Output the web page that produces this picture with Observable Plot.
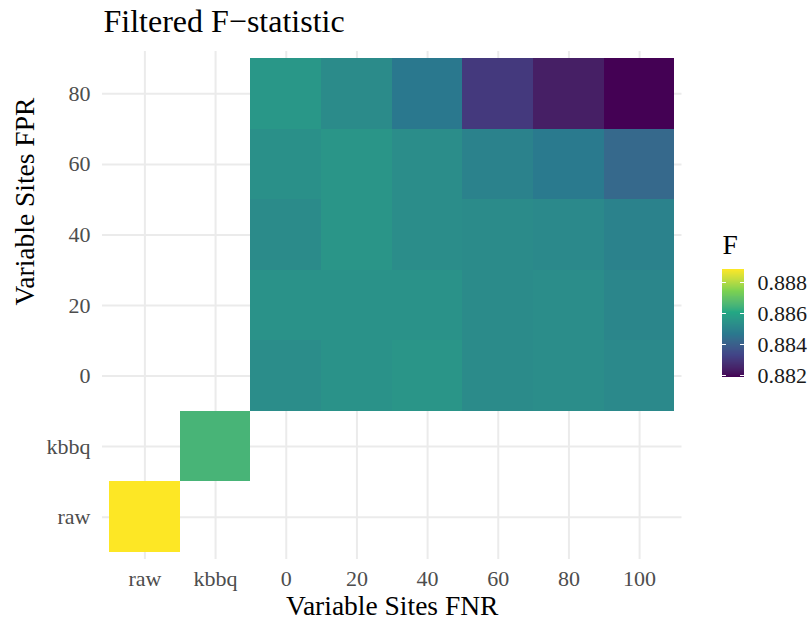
<!DOCTYPE html>
<html><head><meta charset="utf-8">
<script src="https://cdn.jsdelivr.net/npm/d3@7"></script>
<script src="https://cdn.jsdelivr.net/npm/@observablehq/plot@0.6"></script>
<style>
body{margin:0;background:#fff;}
#wrap{position:relative;width:809px;height:620px;overflow:hidden;background:#fff;}
#main{position:absolute;left:0;top:0;}
#legend{position:absolute;left:700px;top:230px;}
</style></head><body>
<div id="wrap"><div id="main"></div><div id="legend"></div></div>
<script>
// ---- data ----
const xCategories = ["raw", "kbbq", "0", "20", "40", "60", "80", "100"];
const yCategories = ["80", "60", "40", "20", "0", "kbbq", "raw"];
const fnrLevels = ["0", "20", "40", "60", "80", "100"];
const fprLevels = ["80", "60", "40", "20", "0"];
// rows follow fprLevels, columns follow fnrLevels
const fRow80 = [0.88556, 0.88522, 0.88466, 0.88299, 0.88236, 0.88187];
const fRow60 = [0.88536, 0.88550, 0.88529, 0.88494, 0.88473, 0.88424];
const fRow40 = [0.88522, 0.88550, 0.88529, 0.88522, 0.88515, 0.88494];
const fRow20 = [0.88543, 0.88543, 0.88543, 0.88522, 0.88529, 0.88508];
const fRow0  = [0.88529, 0.88543, 0.88550, 0.88522, 0.88529, 0.88515];
const rawF = 0.88884;
const kbbqF = 0.88647;
const colorDomain = [0.88187, 0.88884];
const legendTicks = [0.882, 0.884, 0.886, 0.888];
// ggplot's viridis palette stops (interpolated in Lab)
const paletteStops = ["#440154", "#414487", "#2A788E", "#22A884", "#7AD151", "#FDE725"];

const fRows = [fRow80, fRow60, fRow40, fRow20, fRow0];
const cells = [
  {fnr: "raw", fpr: "raw", F: rawF},
  {fnr: "kbbq", fpr: "kbbq", F: kbbqF}
];
fprLevels.forEach((fpr, i) => fnrLevels.forEach((fnr, j) => cells.push({fnr, fpr, F: fRows[i][j]})));

const serif = "'Liberation Serif', 'Times New Roman', serif";
const stopDomain = paletteStops.map((_, i) => colorDomain[0] + (colorDomain[1] - colorDomain[0]) * i / (paletteStops.length - 1));
const colorScale = {type: "linear", domain: stopDomain, range: paletteStops, interpolate: "lab"};

const main = Plot.plot({
  width: 809,
  height: 620,
  marginLeft: 102,
  marginRight: 127.5,
  marginTop: 51,
  marginBottom: 61,
  style: {fontFamily: serif, fontSize: "22px", color: "#4d4d4d", background: "#fff"},
  x: {type: "band", domain: xCategories, padding: 0, round: false, insetLeft: 7.07, insetRight: 7.07,
      tickSize: 0, tickPadding: 11, label: null},
  y: {type: "band", domain: yCategories, padding: 0, round: false, insetTop: 7.06, insetBottom: 7.06,
      tickSize: 0, tickPadding: 12, label: null},
  color: colorScale,
  marks: [
    Plot.ruleX(xCategories, {x: d => d, stroke: "#ebebeb", strokeWidth: 2}),
    Plot.ruleY(yCategories, {y: d => d, stroke: "#ebebeb", strokeWidth: 2}),
    Plot.cell(cells, {x: "fnr", y: "fpr", fill: "F", shapeRendering: "crispEdges"}),
    Plot.text(["Filtered F\u2212statistic"], {frameAnchor: "top-left", dx: 1, dy: -20, textAnchor: "start",
      lineAnchor: "bottom", fontSize: 32, fill: "#000"}),
    Plot.text(["Variable Sites FNR"], {frameAnchor: "bottom", dy: 55, lineAnchor: "bottom",
      fontSize: 27.5, fill: "#000"}),
    Plot.text(["Variable Sites FPR"], {frameAnchor: "left", dx: -69, rotate: -90, lineAnchor: "bottom",
      fontSize: 27.5, fill: "#000"})
  ]
});
document.getElementById("main").appendChild(main);

// ---- legend (vertical colour bar) ----
const nBar = 110;
const barStep = (colorDomain[1] - colorDomain[0]) / nBar;
const barStops = d3.range(0, nBar).map(i => colorDomain[0] + barStep * i);
const legend = Plot.plot({
  width: 109,
  height: 160,
  marginLeft: 22,
  marginRight: 65,
  marginTop: 39,
  marginBottom: 13,
  style: {fontFamily: serif, fontSize: "22px", color: "#1a1a1a", background: "transparent", overflow: "visible"},
  x: {domain: [0, 1], axis: null},
  y: {domain: colorDomain, axis: "right", ticks: legendTicks, tickFormat: ".3f", tickSize: 0, tickPadding: 13, label: null},
  color: colorScale,
  marks: [
    Plot.rect(barStops, {x1: 0, x2: 1, y1: d => d, y2: d => Math.min(d + barStep * 1.5, colorDomain[1]), fill: d => d + barStep / 2, shapeRendering: "crispEdges"}),
    Plot.ruleY(legendTicks, {x1: 0, x2: 0.18, stroke: "#fff", strokeWidth: 1}),
    Plot.ruleY(legendTicks, {x1: 0.82, x2: 1, stroke: "#fff", strokeWidth: 1}),
    Plot.text(["F"], {frameAnchor: "top-left", dy: -16, textAnchor: "start", lineAnchor: "bottom", fontSize: 27.5, fill: "#000"})
  ]
});
document.getElementById("legend").appendChild(legend);
</script>
</body></html>
